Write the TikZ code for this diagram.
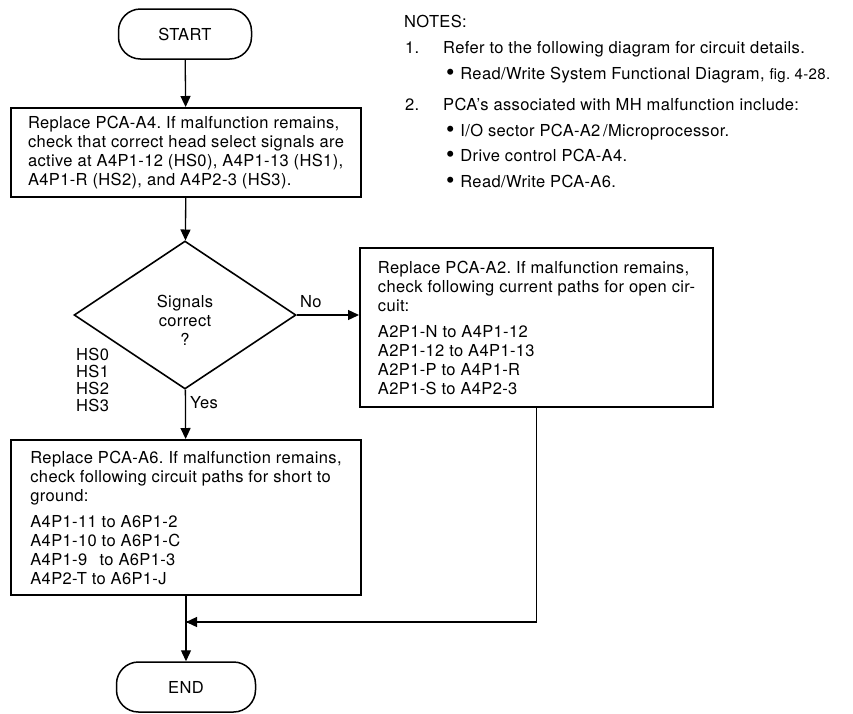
\documentclass[tikz,border=0pt]{standalone}
\usepackage{fontspec}
\setmainfont[LetterSpace=2.2]{TeX Gyre Heros}
\usetikzlibrary{shapes.geometric,arrows.meta}
\frenchspacing

\newcommand{\letraCaja}{\fontsize{16.5}{19}\selectfont}
\newcommand{\letraNota}{\fontsize{16.5}{19}\selectfont}
\newcommand{\vineta}{{\fontsize{24}{19}\selectfont\raisebox{-1pt}{•}}\hspace{0.35em}}

\tikzset{
terminal/.style={draw,line width=1.5pt,rounded corners=22pt,minimum height=50pt,inner sep=0pt,font=\letraCaja},
caja/.style={draw,line width=2pt,align=left,inner sep=0pt,font=\letraCaja},
decision/.style={draw,diamond,line width=1.6pt,minimum width=222pt,minimum height=148pt,inner sep=0pt,align=center,font=\letraCaja},
flecha/.style={line width=1.3pt,-{Triangle[length=11pt,width=10pt]}},
linea/.style={line width=1.3pt},
etiqueta/.style={inner sep=0pt,anchor=base west,font=\letraCaja},
nota/.style={inner sep=0pt,anchor=base west,font=\letraNota}
}

\begin{document}
\begin{tikzpicture}[x=1pt,y=-1pt]
    \useasboundingbox (0,0) rectangle (853,713);

    % bloques del diagrama
    \node[terminal,minimum width=133pt] (inicio) at (185,34) {START};
    \node[caja,minimum width=350pt,minimum height=89pt] (cajaA4) at (186,152.5)
        {Replace PCA-A4. If malfunction remains,\\
         check that correct head select signals are\\
         active at A4P1-12 (HS0), A4P1-13 (HS1),\\
         A4P1-R (HS2), and A4P2-3 (HS3).};
    \node[decision] (senales) at (185,315) {\rule{0pt}{22pt}Signals\\correct\\?};
    \node[caja,minimum width=353pt,minimum height=159pt] (cajaA2) at (536.5,327.5)
        {Replace PCA-A2. If malfunction remains,\\
         check following current paths for open cir-\\
         cuit:\\[7pt]
         A2P1-N to A4P1-12\\
         A2P1-12 to A4P1-13\\
         A2P1-P to A4P1-R\\
         A2P1-S to A4P2-3};
    \node[caja,minimum width=350pt,minimum height=155pt] (cajaA6) at (186,517.5)
        {Replace PCA-A6. If malfunction remains,\\
         check following circuit paths for short to\\
         ground:\\[7pt]
         A4P1-11 to A6P1-2\\
         A4P1-10 to A6P1-C\\
         A4P1-9\hspace{0.45em} to A6P1-3\\
         A4P2-T to A6P1-J};
    \node[terminal,minimum width=139pt] (fin) at (186,687) {END};
    \coordinate (union) at (186,622);

    % conexiones
    \draw[flecha] (inicio) -- (cajaA4);
    \draw[flecha] (cajaA4) -- (senales);
    \draw[flecha] (senales.east) -- (senales.east -| cajaA2.west);
    \draw[flecha] (senales) -- (cajaA6);
    \draw[flecha] (cajaA6) -- (fin);
    \draw[linea] (cajaA2.south) |- (union);
    \draw[flecha] (cajaA2.south |- union) -- (union);

    % etiquetas
    \node[etiqueta] (no) at (300,307) {No};
    \node[etiqueta] (si) at (190,408) {Yes};
    \foreach \s in {0,1,2,3}{
        \node[etiqueta] (hs\s) at (76,360+17*\s) {HS\s};
    }

    % notas
    \node[nota] (notas) at (404,27) {NOTES:};
    \node[nota] (num1) at (405,53) {1.};
    \node[nota] (nota1) at (443,53) {Refer to the following diagram for circuit details.};
    \node[nota] (nota1a) at (446,79) {\vineta Read/Write System Functional Diagram, {\fontsize{15}{19}\selectfont fig.~4-28.}};
    \node[nota] (num2) at (405,110) {2.};
    \node[nota] (nota2) at (443,110) {PCA's associated with MH malfunction include:};
    \node[nota] (nota2a) at (446,136) {\vineta I/O sector PCA-A2\,/Microprocessor.};
    \node[nota] (nota2b) at (446,161) {\vineta Drive control PCA-A4.};
    \node[nota] (nota2c) at (446,187) {\vineta Read/Write PCA-A6.};
\end{tikzpicture}
\end{document}
